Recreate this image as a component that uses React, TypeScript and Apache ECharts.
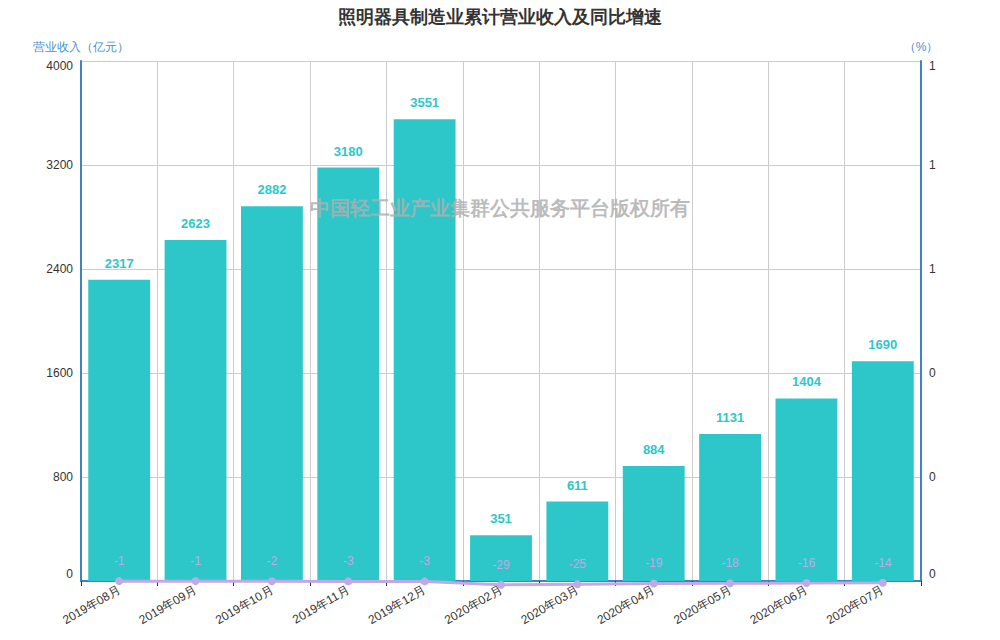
import React, { useEffect, useRef } from "react";
import * as echarts from "echarts";

const categories = ["2019年08月", "2019年09月", "2019年10月", "2019年11月", "2019年12月", "2020年02月", "2020年03月", "2020年04月", "2020年05月", "2020年06月", "2020年07月"];
const revenue = [2317, 2623, 2882, 3180, 3551, 351, 611, 884, 1131, 1404, 1690];
const growth = [-1, -1, -2, -3, -3, -29, -25, -19, -18, -16, -14];
const leftTicks = { min: 0, max: 4000, interval: 800 };
const rightTicks = { min: 0, max: 1, interval: 0.2 };

const axisBlue = "#3d84c0";
const nameBlue = "#4a90d0";

const edgeRich = {
  top: { padding: [10, 0, 0, 0], color: "#333", fontSize: 12 },
  bot: { padding: [0, 0, 14, 0], color: "#333", fontSize: 12 },
};

function edgeFormatter(min: number, max: number, fmt: (v: number) => string) {
  return (v: number) => {
    const s = fmt(v);
    if (Math.abs(v - max) < 1e-9) return `{top|${s}}`;
    if (Math.abs(v - min) < 1e-9) return `{bot|${s}}`;
    return s;
  };
}

export default function App() {
  const ref = useRef<HTMLDivElement>(null);
  useEffect(() => {
    if (!ref.current) return;
    const chart = echarts.init(ref.current, null, { renderer: "svg" });
    chart.setOption({
      animation: false,
      title: {
        text: "照明器具制造业累计营业收入及同比增速",
        left: "center",
        top: 3,
        textStyle: { fontSize: 18, fontWeight: "bold", color: "#333" },
      },
      grid: { left: 81, right: 79, top: 61, bottom: 59, containLabel: false },
      graphic: [
        {
          type: "text",
          left: "center",
          top: 198,
          z: 100,
          style: {
            text: "中国轻工业产业集群公共服务平台版权所有",
            fontSize: 20,
            fontWeight: "bold",
            fill: "rgba(175,175,175,0.85)",
          },
        },
      ],
      xAxis: {
        type: "category",
        data: categories,
        boundaryGap: true,
        axisLine: { lineStyle: { color: axisBlue, width: 2 } },
        axisTick: { show: true, alignWithLabel: false, lineStyle: { color: "#333" } },
        axisLabel: { rotate: 30, color: "#333", fontSize: 12, interval: 0 },
        splitLine: { show: true, lineStyle: { color: "#ccc" } },
      },
      yAxis: [
        {
          type: "value",
          name: "营业收入（亿元）",
          nameGap: 8,
          nameTextStyle: { color: nameBlue, fontSize: 12 },
          min: leftTicks.min,
          max: leftTicks.max,
          interval: leftTicks.interval,
          axisLine: { show: true, lineStyle: { color: axisBlue, width: 2 } },
          axisTick: { show: false },
          axisLabel: {
            color: "#333",
            fontSize: 12,
            formatter: edgeFormatter(leftTicks.min, leftTicks.max, (v) => String(v)),
            rich: edgeRich,
          },
          splitLine: { show: true, lineStyle: { color: "#ccc" } },
        },
        {
          type: "value",
          name: "（%）",
          nameGap: 8,
          nameTextStyle: { color: nameBlue, fontSize: 12 },
          min: rightTicks.min,
          max: rightTicks.max,
          interval: rightTicks.interval,
          position: "right",
          axisLine: { show: true, lineStyle: { color: axisBlue, width: 2 } },
          axisTick: { show: false },
          axisLabel: {
            color: "#333",
            fontSize: 12,
            formatter: edgeFormatter(rightTicks.min, rightTicks.max, (v) => String(Math.round(v))),
            rich: edgeRich,
          },
          splitLine: { show: false },
        },
      ],
      series: [
        {
          name: "营业收入",
          type: "bar",
          data: revenue,
          yAxisIndex: 0,
          barCategoryGap: "19%",
          itemStyle: { color: "#2ec7c9" },
          label: {
            show: true,
            position: "top",
            distance: 10,
            color: "#2ec7c9",
            fontWeight: "bold",
            fontSize: 13,
          },
        },
        {
          name: "同比增速",
          type: "line",
          data: growth,
          yAxisIndex: 0,
          clip: false,
          symbol: "circle",
          symbolSize: 8,
          lineStyle: { color: "#c3a8e6", width: 3 },
          itemStyle: { color: "#c3a8e6" },
          label: {
            show: true,
            position: "top",
            distance: 10,
            color: "#c3a8e6",
            fontSize: 12,
          },
          labelLayout: { hideOverlap: false },
          z: 5,
        },
      ],
    });
    return () => chart.dispose();
  }, []);
  return <div ref={ref} style={{ width: 1000, height: 640, margin: -8 }} />;
}
